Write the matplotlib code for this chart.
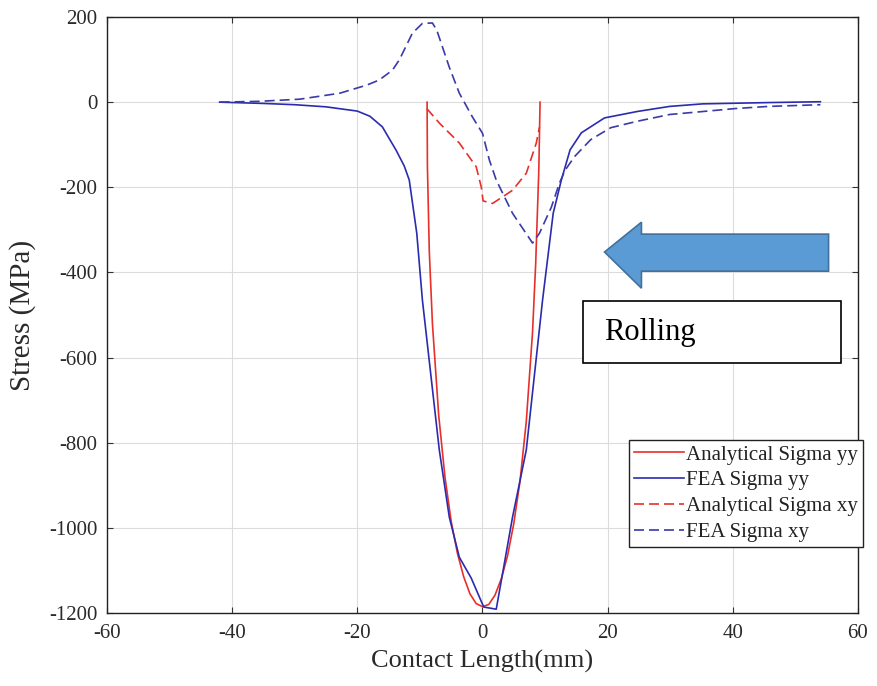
"""Contact stress along the rolling contact: analytical vs FEA"""
import matplotlib.pyplot as plt
from matplotlib.patches import Polygon, Rectangle

plt.rcParams['font.family'] = ['Liberation Serif', 'DejaVu Serif']
plt.rcParams['axes.unicode_minus'] = False

# Analytical Sigma yy (Hertz pressure)
x_an_yy = [-8.85, -8.8, -8.5, -8, -7, -6, -5, -4, -3, -2, -1, 0, 1, 2, 3,
           4, 5, 6, 7, 8, 8.5, 9.0, 9.2]
s_an_yy = [0, -150, -350, -520, -735, -880, -985, -1060, -1115, -1155, -1178,
           -1185, -1180, -1158, -1120, -1066, -990, -890, -750, -540, -380,
           -160, 0]

# FEA Sigma yy
x_fea_yy = [-42, -35, -30, -25, -20, -18, -16, -13.8, -12.5, -11.7, -10.5,
            -9.6, -6.9, -5.3, -3.7, -1.8, 0.2, 2.2, 4.8, 7.0, 9.6, 11.3,
            12.6, 14.0, 15.8, 19.5, 24.7, 29.9, 35.2, 45.7, 54]
s_fea_yy = [0, -3, -6, -11, -21, -33, -58, -113, -150, -183, -308, -465,
            -817, -975, -1069, -1118, -1186, -1191, -975, -817, -465, -261,
            -183, -112, -72, -37, -22, -10, -4, -1, 1]

# Analytical Sigma xy
x_an_xy = [-8.9, -6.9, -3.7, -1.0, -0.2, 0.1, 1.6, 4.8, 7.0, 8.6, 9.1]
s_an_xy = [-15, -49, -96, -152, -199, -232, -238, -207, -167, -96, -59]

# FEA Sigma xy
x_fea_xy = [-42, -35.6, -29.2, -22.8, -18.5, -16.5, -14.4, -13.3, -11.2,
            -9.6, -8.0, -7.3, -5.3, -3.7, -1.6, 0.0, 1.1, 2.2, 4.8, 8.0, 9.1,
            11.0, 12.3, 13.2, 14.7, 17.3, 20.5, 24.7, 29.9, 35.2, 40.4, 45.7,
            54]
s_fea_xy = [0, 2, 7, 21, 40, 52, 75, 99, 162, 185, 186, 169, 82, 21, -35,
            -73, -136, -183, -261, -331, -308, -247, -190, -160, -128, -88,
            -60, -45, -29, -22, -15, -10, -6]

ROJO = '#e8302a'
AZUL = '#2b2bb0'
AZUL_XY = '#3a3aa8'

fig = plt.figure(figsize=(8.77, 6.86), dpi=100)
ax = fig.add_axes([0.122, 0.1064, 0.8563, 0.8688])

ax.plot(x_an_yy, s_an_yy, color=ROJO, lw=1.2, label='Analytical Sigma yy')
ax.plot(x_fea_yy, s_fea_yy, color=AZUL, lw=1.2, label='FEA Sigma yy')
ax.plot(x_an_xy, s_an_xy, color=ROJO, lw=1.2, ls=(0, (6, 3)),
        label='Analytical Sigma xy')
ax.plot(x_fea_xy, s_fea_xy, color=AZUL_XY, lw=1.2, ls=(0, (6, 3)),
        label='FEA Sigma xy')

ax.set_xlim(-60, 60)
ax.set_ylim(-1200, 200)
ax.set_xticks(range(-60, 61, 20))
ax.set_yticks(range(-1200, 201, 200))
ax.grid(True, color='#dcdcdc', lw=0.8)
ax.set_axisbelow(True)
ax.tick_params(direction='in', top=True, right=True, length=4,
               labelsize=15, labelcolor='#2a2a2a', color='#333333')
ax.tick_params(axis='y', pad=7)
ax.tick_params(axis='x', pad=8)
for lado in ax.spines.values():
    lado.set_color('#222222')
    lado.set_linewidth(1.0)

ax.set_xlabel('Contact Length(mm)', fontsize=19, color='#2a2a2a', labelpad=5)
ax.set_ylabel('Stress (MPa)', fontsize=21, color='#2a2a2a', labelpad=9)

# flecha de rodadura y caja de texto
flecha = Polygon([(19.5, -352), (25.4, -282), (25.4, -310), (55.3, -310),
                  (55.3, -397), (25.4, -397), (25.4, -437)],
                 closed=True, facecolor='#5b9bd5', edgecolor='#41719c',
                 lw=1.2, zorder=5)
ax.add_patch(flecha)
ax.add_patch(Rectangle((16.1, -613), 41.2, 146, facecolor='white',
                       edgecolor='black', lw=1.2, zorder=5))
ax.text(19.5, -540, 'Rolling', fontsize=22, va='center', ha='left',
        color='black', zorder=6)

leg = ax.legend(loc='upper right', bbox_to_anchor=(0.984, 0.359),
                bbox_transform=fig.transFigure, borderaxespad=0,
                fancybox=False, framealpha=1, edgecolor='#222222',
                fontsize=15, labelspacing=0.3, handlelength=2.4,
                handletextpad=0.1, borderpad=0.25)
leg.get_frame().set_linewidth(1.0)
for t in leg.get_texts():
    t.set_color('#222222')

fig.savefig('out.png', dpi=100)
